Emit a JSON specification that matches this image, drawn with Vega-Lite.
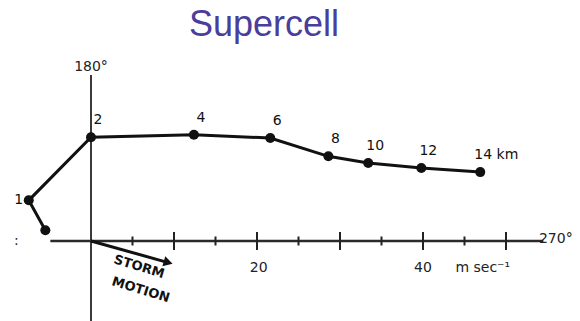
{
  "$schema": "https://vega.github.io/schema/vega-lite/v6.json",
  "description": "Hodograph of a supercell environment: wind vectors by height (km), with storm motion.",
  "width": 580,
  "height": 276,
  "autosize": {"type": "none"},
  "padding": {"top": 45, "left": 0, "right": 0, "bottom": 0},
  "background": "white",
  "config": {"view": {"stroke": null}},
  "title": {
    "text": "Supercell",
    "font": "Liberation Sans",
    "fontSize": 36,
    "fontWeight": "normal",
    "color": "#4a3d9c",
    "anchor": "middle",
    "dx": -26,
    "offset": 1
  },
  "datasets": {
    "hodograph": [
      {"h": 0, "u": -5.5, "v": 1.3, "label": ""},
      {"h": 1, "u": -7.5, "v": 4.9, "label": "1"},
      {"h": 2, "u": 0, "v": 12.5, "label": "2"},
      {"h": 4, "u": 12.4, "v": 12.8, "label": "4"},
      {"h": 6, "u": 21.6, "v": 12.4, "label": "6"},
      {"h": 8, "u": 28.6, "v": 10.2, "label": "8"},
      {"h": 10, "u": 33.4, "v": 9.4, "label": "10"},
      {"h": 12, "u": 39.8, "v": 8.8, "label": "12"},
      {"h": 14, "u": 46.9, "v": 8.3, "label": "14 km"}
    ],
    "axisLines": [
      {"part": "north", "u": 0, "u2": 0, "v": 20, "v2": -10},
      {"part": "east", "u": -4.9, "u2": 54.5, "v": 0, "v2": 0}
    ],
    "ticks": [
      {"u": 5, "v": 0, "major": false},
      {"u": 10, "v": 0, "major": true},
      {"u": 15, "v": 0, "major": false},
      {"u": 20, "v": 0, "major": true},
      {"u": 25, "v": 0, "major": false},
      {"u": 30, "v": 0, "major": true},
      {"u": 35, "v": 0, "major": false},
      {"u": 40, "v": 0, "major": true},
      {"u": 45, "v": 0, "major": false},
      {"u": 50, "v": 0, "major": true}
    ],
    "stormMotion": [
      {"u": 0, "v": 0},
      {"u": 9.3, "v": -2.6}
    ],
    "annotations": [
      {"text": "180°", "u": 0, "v": 21},
      {"text": "270°", "u": 56, "v": 0.3},
      {"text": ":", "u": -9.0, "v": 0},
      {"text": "20", "u": 20.2, "v": -3.2},
      {"text": "40", "u": 40, "v": -3.2},
      {"text": "m sec⁻¹", "u": 47.2, "v": -3.2}
    ],
    "stormLabel": [
      {"text": "STORM", "u": 5.8, "v": -3.1},
      {"text": "MOTION", "u": 6.0, "v": -5.9}
    ]
  },
  "encoding": {
    "x": {
      "field": "u",
      "type": "quantitative",
      "scale": {"domain": [-10.964, 58.916], "nice": false, "zero": false},
      "axis": null
    },
    "y": {
      "field": "v",
      "type": "quantitative",
      "scale": {"domain": [-9.639, 23.614], "nice": false, "zero": false},
      "axis": null
    }
  },
  "layer": [
    {
      "data": {"name": "axisLines"},
      "transform": [{"filter": "datum.part === 'north'"}],
      "mark": {"type": "rule", "color": "#3a3a3a", "strokeWidth": 2},
      "encoding": {"y2": {"field": "v2"}}
    },
    {
      "data": {"name": "axisLines"},
      "transform": [{"filter": "datum.part === 'east'"}],
      "mark": {"type": "rule", "color": "#2a2a2a", "strokeWidth": 2.5},
      "encoding": {"x2": {"field": "u2"}}
    },
    {
      "data": {"name": "ticks"},
      "transform": [{"filter": "datum.major"}],
      "mark": {"type": "tick", "orient": "vertical", "color": "#222", "thickness": 2, "size": 18, "opacity": 1},
      "encoding": {}
    },
    {
      "data": {"name": "ticks"},
      "transform": [{"filter": "!datum.major"}],
      "mark": {"type": "tick", "orient": "vertical", "color": "#222", "thickness": 2, "size": 9, "opacity": 1},
      "encoding": {}
    },
    {
      "data": {"name": "stormMotion"},
      "mark": {"type": "line", "color": "#111", "strokeWidth": 3},
      "encoding": {}
    },
    {
      "data": {"name": "stormMotion"},
      "transform": [{"filter": "datum.u > 0"}],
      "mark": {"type": "point", "shape": "triangle-right", "filled": true, "color": "#111", "size": 110, "angle": 16, "opacity": 1},
      "encoding": {}
    },
    {
      "data": {"name": "hodograph"},
      "mark": {"type": "line", "color": "#111", "strokeWidth": 3},
      "encoding": {"order": {"field": "h"}}
    },
    {
      "data": {"name": "hodograph"},
      "mark": {"type": "point", "filled": true, "color": "#111", "size": 100, "opacity": 1},
      "encoding": {}
    },
    {
      "data": {"name": "hodograph"},
      "transform": [{"filter": "datum.h >= 2 && datum.h <= 12"}],
      "mark": {"type": "text", "font": "DejaVu Sans", "fontSize": 14, "color": "#111", "dx": 7, "dy": -17},
      "encoding": {"text": {"field": "label"}}
    },
    {
      "data": {"name": "hodograph"},
      "transform": [{"filter": "datum.h === 1"}],
      "mark": {"type": "text", "font": "DejaVu Sans", "fontSize": 14, "color": "#111", "dx": -10, "dy": 0},
      "encoding": {"text": {"field": "label"}}
    },
    {
      "data": {"name": "hodograph"},
      "transform": [{"filter": "datum.h === 14"}],
      "mark": {"type": "text", "font": "DejaVu Sans", "fontSize": 14, "color": "#111", "align": "left", "dx": -6, "dy": -17},
      "encoding": {"text": {"field": "label"}}
    },
    {
      "data": {"name": "annotations"},
      "mark": {"type": "text", "font": "DejaVu Sans", "fontSize": 14, "color": "#222"},
      "encoding": {"text": {"field": "text"}}
    },
    {
      "data": {"name": "stormLabel"},
      "mark": {"type": "text", "font": "DejaVu Sans", "fontSize": 13, "fontWeight": "bold", "color": "#111", "angle": 17},
      "encoding": {"text": {"field": "text"}}
    }
  ]
}
